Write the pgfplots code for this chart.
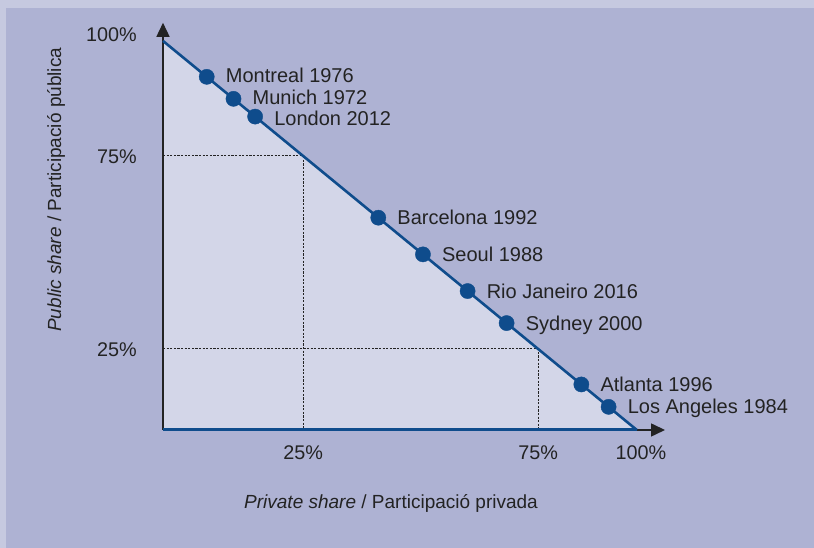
\documentclass[border=0pt]{standalone}
\usepackage{pgfplots}
\pgfplotsset{compat=1.18}
\usepackage{fontspec}
\setmainfont{Liberation Sans}
\usetikzlibrary{arrows.meta}
\definecolor{bgin}{HTML}{AEB2D3}
\definecolor{bgout}{HTML}{C6C9E0}
\definecolor{tri}{HTML}{D3D6E8}
\definecolor{oblue}{HTML}{0F4C8C}
\definecolor{txt}{HTML}{232323}
\begin{document}
\begin{tikzpicture}[x=1bp,y=1bp]
\fill[bgin] (0,0) rectangle (814,548);
\fill[bgout] (0,540) rectangle (814,548);
\fill[bgout] (0,0) rectangle (6,548);
\useasboundingbox (0,0) rectangle (814,548);
\begin{axis}[
  at={(163bp,118bp)}, anchor=south west,
  scale only axis, width=502bp, height=407.2bp,
  xmin=-4.8, xmax=102, ymin=4, ymax=109.5,
  axis line style={draw=none},
  clip=false,
  xtick={25,75,96.9}, xticklabels={25\%,75\%,100\%},
  ytick={25,75,106.6}, yticklabels={25\%,75\%,100\%},
  major tick length=0pt, tick style={draw=none},
  ticklabel style={font=\fontsize{19.8bp}{23bp}\selectfont, text=txt, inner sep=0pt},
  xticklabel style={anchor=base, yshift=-30bp},
  yticklabel style={anchor=base east, xshift=-26bp, yshift=-8bp},
  lbl/.style={only marks, mark=*, mark size=7.6bp, mark options={fill=oblue, draw=oblue},
    nodes near coords, point meta=explicit symbolic,
    nodes near coords style={anchor=base west, xshift=19bp, yshift=#1,
      font=\fontsize{20bp}{24bp}\selectfont, text=txt, inner sep=0pt}},
]
\addplot[fill=tri, draw=none] coordinates {(-4.8,4) (-4.8,104.8) (96,4)} -- cycle;
\addplot[txt, line width=1.1bp, dash pattern=on 2.2bp off 1.4bp] coordinates {(-4.8,75) (25,75) (25,4)};
\addplot[txt, line width=1.1bp, dash pattern=on 2.2bp off 1.4bp] coordinates {(-4.8,25) (75,25) (75,4)};
\draw[txt, line width=1.5bp, -{Triangle[length=14bp,width=13bp]}] (axis cs:-4.8,4) -- (axis cs:102,4);
\draw[txt, line width=1.5bp, -{Triangle[length=14bp,width=13bp]}] (axis cs:-4.8,4) -- (axis cs:-4.8,109.5);
\addplot[oblue, line width=3bp] coordinates {(-4.8,4) (96,4)};
\addplot[oblue, line width=2.6bp] coordinates {(-4.8,104.8) (96,4)};
\addplot[lbl=-6bp] table[col sep=comma, meta=label] {
x,y,label
4.5,95.5,Montreal 1976
10.2,89.8,Munich 1972
};
\addplot[lbl=-8.5bp] table[col sep=comma, meta=label] {
x,y,label
14.8,85.2,London 2012
};
\addplot[lbl=-7bp] table[col sep=comma, meta=label] {
x,y,label
41,59,Barcelona 1992
50.5,49.5,Seoul 1988
60,40,Rio Janeiro 2016
68.3,31.7,Sydney 2000
84.2,15.8,Atlanta 1996
90,10,Los Angeles 1984
};
\end{axis}
\node[anchor=base west, inner sep=0pt, text=txt, font=\fontsize{19bp}{22bp}\selectfont] at (244,39) {\itshape Private share\/\upshape{} / Participació privada};
\node[anchor=base west, inner sep=0pt, rotate=90, text=txt, font=\fontsize{19bp}{22bp}\selectfont] at (61,216) {\itshape Public share\/\upshape{} / Participació pública};
\end{tikzpicture}
\end{document}
